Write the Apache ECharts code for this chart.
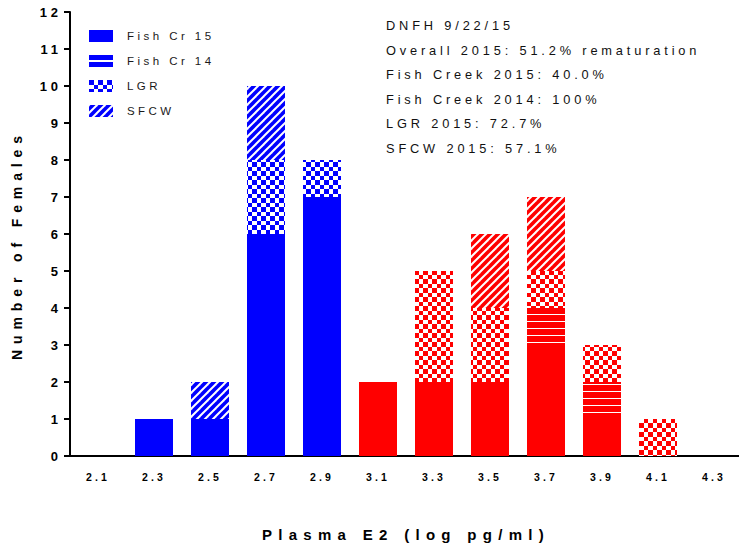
<!DOCTYPE html>
<html>
<head>
<meta charset="utf-8">
<title>Plasma E2 distribution</title>
<script src="https://cdn.jsdelivr.net/npm/echarts@6/dist/echarts.min.js"></script>
<style>
  html, body { margin: 0; padding: 0; background: #fff; }
  #chart { width: 739px; height: 550px; }
</style>
</head>
<body>
<div id="chart"></div>
<script>
// Plasma E2 bins (log pg/ml)
const categories = ['2.1', '2.3', '2.5', '2.7', '2.9', '3.1', '3.3', '3.5', '3.7', '3.9', '4.1', '4.3'];

// Number of females per bin, by stock
const fishCr15 = [0, 1, 1, 6, 7, 2, 2, 2, 3, 1, 0, 0];
const fishCr14 = [0, 0, 0, 0, 0, 0, 0, 0, 1, 1, 0, 0];
const lgr      = [0, 0, 0, 2, 1, 0, 3, 2, 1, 1, 1, 0];
const sfcw     = [0, 0, 1, 2, 0, 0, 0, 2, 2, 0, 0, 0];

// Bins from this index upward are drawn in red
const redFromIndex = 5;

const yTicks = { min: 0, max: 12, interval: 1 };

const notes = [
  'DNFH 9/22/15',
  'Overall 2015: 51.2% rematuration',
  'Fish Creek 2015: 40.0%',
  'Fish Creek 2014: 100%',
  'LGR 2015: 72.7%',
  'SFCW 2015: 57.1%'
];

const BLUE = '#0000ff';
const RED = '#ff0000';
const FONT = 'Arial, "Liberation Sans", Helvetica, sans-serif';

// --- fill patterns -------------------------------------------------------
function tile(w, h, draw) {
  const c = document.createElement('canvas');
  c.width = w; c.height = h;
  draw(c.getContext('2d'));
  return { image: c, repeat: 'repeat', imageWidth: w, imageHeight: h };
}
function checker(col) {
  return tile(9, 9, ctx => {
    ctx.fillStyle = '#fff'; ctx.fillRect(0, 0, 9, 9);
    ctx.fillStyle = col; ctx.fillRect(0, 0, 5, 5); ctx.fillRect(5, 5, 4, 4);
  });
}
function diagonal(col) {
  return tile(8, 8, ctx => {
    ctx.fillStyle = col; ctx.fillRect(0, 0, 8, 8);
    ctx.strokeStyle = '#fff'; ctx.lineWidth = 2;
    [0, 8, 16].forEach(k => {
      ctx.beginPath(); ctx.moveTo(k - 10, 10); ctx.lineTo(k + 2, -2); ctx.stroke();
    });
  });
}
function hlines(col) {
  return tile(8, 7, ctx => {
    ctx.fillStyle = col; ctx.fillRect(0, 0, 8, 7);
    ctx.fillStyle = '#fff'; ctx.fillRect(0, 6, 8, 1);
  });
}
const solid = col => col;

const fills = {
  'Fish Cr 15': { values: fishCr15, fill: solid },
  'Fish Cr 14': { values: fishCr14, fill: hlines },
  'LGR':        { values: lgr,      fill: checker },
  'SFCW':       { values: sfcw,     fill: diagonal }
};
const fillCache = {};
function getFill(name, col) {
  const key = name + col;
  if (!fillCache[key]) fillCache[key] = fills[name].fill(col);
  return fillCache[key];
}

const series = Object.keys(fills).map(name => ({
  name,
  type: 'bar',
  stack: 'females',
  barWidth: 38,
  itemStyle: { color: getFill(name, BLUE) },
  emphasis: { disabled: true },
  data: fills[name].values.map((v, i) => ({
    value: v,
    itemStyle: { color: getFill(name, i >= redFromIndex ? RED : BLUE) }
  }))
}));

const chart = echarts.init(document.getElementById('chart'), null, { renderer: 'svg' });

chart.setOption({
  animation: false,
  backgroundColor: '#fff',
  textStyle: { fontFamily: FONT },
  grid: { left: 70, top: 12, bottom: 94, width: 672, containLabel: false, outerBoundsMode: 'none' },
  legend: {
    orient: 'vertical',
    left: 89,
    top: 30,
    padding: 0,
    itemWidth: 24,
    itemHeight: 12,
    itemGap: 13,
    selectedMode: false,
    textStyle: { fontSize: 11.5, color: '#1a1a1a', fontFamily: FONT, padding: [0, 0, 0, 9] },
    data: [
      { name: 'Fish Cr 15', icon: 'rect' },
      { name: 'Fish Cr 14', icon: 'path://M0,0H24V5H0ZM0,7H24V12H0Z', itemStyle: { color: BLUE } },
      { name: 'LGR', icon: 'rect' },
      { name: 'SFCW', icon: 'rect' }
    ]
  },
  xAxis: {
    type: 'category',
    data: categories,
    boundaryGap: true,
    name: 'Plasma E2 (log pg/ml)',
    nameLocation: 'middle',
    nameGap: 71,
    nameTextStyle: { fontSize: 15, fontWeight: 'bold', color: '#000', fontFamily: FONT },
    axisLine: { lineStyle: { color: '#000', width: 2 } },
    axisTick: { alignWithLabel: true, length: 6, lineStyle: { color: '#000', width: 2 } },
    axisLabel: { margin: 15, fontSize: 10.5, fontWeight: 'bold', color: '#000', fontFamily: FONT, interval: 0 },
    splitLine: { show: false }
  },
  yAxis: {
    type: 'value',
    min: yTicks.min,
    max: yTicks.max,
    interval: yTicks.interval,
    name: 'Number of Females',
    nameLocation: 'middle',
    nameGap: 46,
    nameTextStyle: { fontSize: 14, fontWeight: 'bold', color: '#000', fontFamily: FONT, padding: [0, 22, 0, 0] },
    axisLine: { show: true, lineStyle: { color: '#000', width: 2 } },
    axisTick: { show: true, length: 6, lineStyle: { color: '#000', width: 2 } },
    axisLabel: { margin: 8, fontSize: 13, fontWeight: 'bold', color: '#000', fontFamily: FONT },
    splitLine: { show: false }
  },
  graphic: notes.map((t, i) => ({
    type: 'text',
    left: 386,
    top: 19 + 24.6 * i,
    silent: true,
    style: { text: t, fontSize: 12.8, fill: '#111', fontFamily: FONT }
  })),
  series
});

// Wide letter tracking on every text element
function trackText() {
  document.querySelectorAll('#chart text').forEach(t => {
    const fs = parseFloat(getComputedStyle(t).fontSize) || 12;
    t.style.letterSpacing = ((fs >= 14 ? 0.42 : 0.3) * fs).toFixed(2) + 'px';
  });
}
chart.on('finished', trackText);
trackText();
</script>
</body>
</html>
